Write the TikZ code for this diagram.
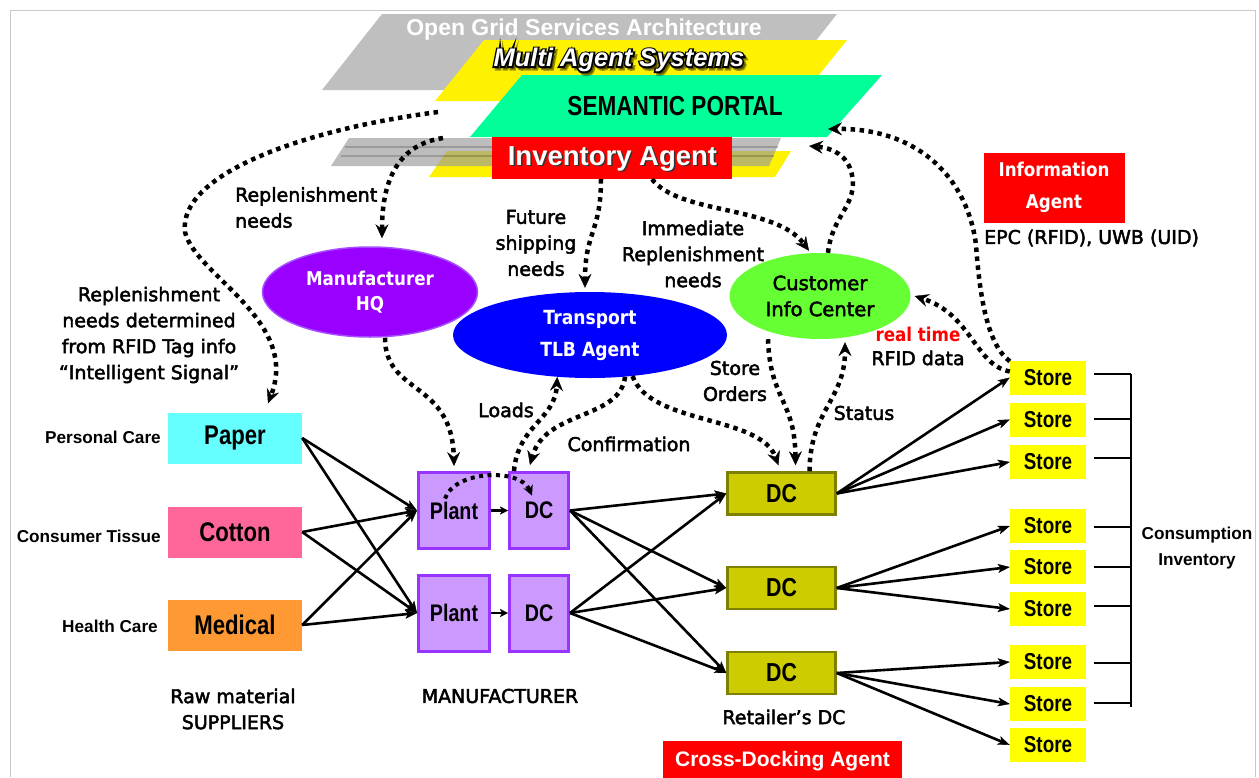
\documentclass[tikz,border=0pt]{standalone}
\usepackage{fontspec}
\usetikzlibrary{shapes.geometric,arrows.meta,calc}
\newfontfamily\tah{DejaVu Sans}[FakeBold=2.5]
\newfontfamily\tahc{DejaVu Sans}[FakeStretch=0.88]
\newfontfamily\ari{Liberation Sans}
\newfontfamily\arn{Liberation Sans}[FakeStretch=0.82]
\newfontfamily\masout{Liberation Sans Bold Italic}[FakeBold=12]
\definecolor{lgray}{HTML}{BFBFBF}
\definecolor{stripg}{HTML}{9A9A9A}
\definecolor{semgreen}{HTML}{00FF99}
\definecolor{hqpurple}{HTML}{9900FF}
\definecolor{hqborder}{HTML}{A64DFF}
\definecolor{tblue}{HTML}{0000FF}
\definecolor{cgreen}{HTML}{66FF33}
\definecolor{lav}{HTML}{CC99FF}
\definecolor{lavb}{HTML}{9933FF}
\definecolor{olivef}{HTML}{CCCC00}
\definecolor{oliveb}{HTML}{808000}
\definecolor{cyanb}{HTML}{66FFFF}
\definecolor{pinkb}{HTML}{FF6699}
\definecolor{orangeb}{HTML}{FF9933}
\definecolor{framec}{HTML}{C8C8C8}
\definecolor{storey}{HTML}{FFFF00}
\tikzset{
  dotarr/.style={line width=4.5pt, dash pattern=on 4.5pt off 4.5pt,
    -{Stealth[length=14pt,width=13pt,inset=5pt,line width=0.4pt]}},
  solarr/.style={line width=2.6pt,
    -{Stealth[length=12pt,width=9pt,inset=3pt,line width=0.4pt]}},
  lab/.style={font=\tah\fontsize{19}{26}\selectfont, align=center, inner sep=0pt},
  sidelab/.style={font=\ari\bfseries\fontsize{17.2}{26}\selectfont, align=center, inner sep=0pt},
  supbox/.style={minimum width=134pt, minimum height=51pt, inner sep=0pt,
    font=\arn\bfseries\fontsize{27}{30}\selectfont},
  pbox/.style={draw=lavb, fill=lav, line width=3pt, minimum height=76pt, inner sep=0pt,
    font=\arn\bfseries\fontsize{24}{28}\selectfont},
  rdcbox/.style={draw=oliveb, fill=olivef, line width=2.5pt, minimum width=108pt,
    minimum height=42pt, inner sep=0pt, font=\arn\bfseries\fontsize{26}{28}\selectfont},
  storebox/.style={fill=storey, minimum width=76pt, minimum height=34pt, inner sep=0pt,
    font=\arn\bfseries\fontsize{23}{26}\selectfont},
  ell/.style={ellipse, inner sep=0pt, align=center,
    font=\tahc\bfseries\fontsize{19}{26}\selectfont},
  redbox/.style={fill=red, inner sep=0pt, text=white, align=center}
}
\begin{document}
\begin{tikzpicture}[x=1pt,y=-1pt]
\useasboundingbox (0,0) rectangle (1259,777);
\fill[white] (0,0) rectangle (1259,777);
\draw[framec, line width=1pt] (10,777) -- (10,10) -- (1255,10) -- (1255,777);

% ---- layered planes ----
\fill[lgray] (382,14) -- (837,14) -- (777,90) -- (322,90) -- cycle;
\fill[yellow] (484,40) -- (847,40) -- (798,101) -- (435,101) -- cycle;
\fill[semgreen] (522,75) -- (882,75) -- (827,137) -- (470,137) -- cycle;
\fill[yellow] (447,151) -- (791,151) -- (775,177) -- (429,177) -- cycle;
\fill[stripg, opacity=0.65] (349,138) -- (781,138) -- (769,166) -- (331,166) -- cycle;
\draw[black, opacity=0.18, line width=1.5pt] (345,147) -- (778,147);
\draw[black, opacity=0.18, line width=1.5pt] (341,156) -- (774,156);

\node[text=white, font=\ari\bfseries\fontsize{23}{26}\selectfont, inner sep=0pt] (ogsa) at (584,30) {Open Grid Services Architecture};

\node[text=black, opacity=0.4, font=\masout\fontsize{25.5}{28}\selectfont, inner sep=0pt] (masshadow) at (621.5,62.5) {Multi Agent Systems};
\node[text=black, font=\masout\fontsize{25.5}{28}\selectfont, inner sep=0pt] (masline) at (619,60) {Multi Agent Systems};
\node[text=white, font=\ari\bfseries\itshape\fontsize{25.5}{28}\selectfont, inner sep=0pt] (mas) at (619,60) {Multi Agent Systems};

\node[font=\arn\bfseries\fontsize{27.5}{30}\selectfont, inner sep=0pt] (sem) at (675,106) {SEMANTIC PORTAL};

\node[fill=red, minimum width=240pt, minimum height=42pt, inner sep=0pt] (inv) at (612,158) {};
\node[text=black!80, font=\ari\bfseries\fontsize{27.5}{30}\selectfont, inner sep=0pt] (invshadow) at (614,160) {Inventory Agent};
\node[text=white, font=\ari\bfseries\fontsize{27.5}{30}\selectfont, inner sep=0pt] (invt) at (612.5,158.5) {Inventory Agent};

% ---- agents ----
\node[ell, fill=hqpurple, draw=hqborder, line width=1.5pt, minimum width=215pt, minimum height=90pt, text=white,
  font=\tahc\bfseries\fontsize{19}{25}\selectfont] (hq) at (370,292) {Manufacturer\\HQ};
\node[ell, fill=tblue, minimum width=274pt, minimum height=86pt, text=white,
  font=\tahc\bfseries\fontsize{19.5}{32}\selectfont] (trans) at (590,335) {Transport\\TLB Agent};
\node[ell, fill=cgreen, minimum width=181pt, minimum height=86pt, text=black,
  font=\tah\fontsize{19.5}{26}\selectfont] (cust) at (820,296) {Customer\\Info Center};

\node[redbox, minimum width=141pt, minimum height=70pt, font=\tahc\bfseries\fontsize{19}{32}\selectfont] (info) at (1054,187.5) {Information\\Agent};
\node[lab, anchor=west] (epc) at (984,238) {EPC (RFID), UWB (UID)};

% ---- suppliers ----
\node[supbox, fill=cyanb] (paper) at (235,438) {Paper};
\node[supbox, fill=pinkb] (cotton) at (235,532) {Cotton};
\node[supbox, fill=orangeb] (medical) at (235,625) {Medical};
\node[sidelab, anchor=east] (pc) at (161,437) {Personal Care};
\node[sidelab, anchor=east] (ct) at (161,536) {Consumer Tissue};
\node[sidelab, anchor=east] (hc) at (158,626) {Health Care};
\node[lab] (rawl) at (233,709) {Raw material\\SUPPLIERS};

% ---- manufacturer ----
\node[pbox, minimum width=71pt] (pl1) at (454,510.5) {Plant};
\node[pbox, minimum width=59pt] (dcm1) at (539,510.5) {DC};
\node[pbox, minimum width=71pt] (pl2) at (454,613) {Plant};
\node[pbox, minimum width=59pt] (dcm2) at (539,613) {DC};
\node[lab] (manl) at (500,696) {MANUFACTURER};

% ---- retailer DCs ----
\node[rdcbox] (rdc1) at (781.5,493.5) {DC};
\node[rdcbox] (rdc2) at (781.5,588) {DC};
\node[rdcbox] (rdc3) at (781.5,673) {DC};
\node[lab] (retl) at (784,717) {Retailer’s DC};
\node[redbox, minimum width=239pt, minimum height=40pt, font=\ari\bfseries\fontsize{21}{24}\selectfont] (xd) at (782.5,761) {Cross-Docking Agent};

% ---- stores ----
\node[storebox] (s1) at (1048,377.5) {Store};
\node[storebox] (s2) at (1048,419.5) {Store};
\node[storebox] (s3) at (1048,462) {Store};
\node[storebox] (s4) at (1048,526) {Store};
\node[storebox] (s5) at (1048,567) {Store};
\node[storebox] (s6) at (1048,609) {Store};
\node[storebox] (s7) at (1048,662) {Store};
\node[storebox] (s8) at (1048,704) {Store};
\node[storebox] (s9) at (1048,745) {Store};

\draw[line width=1.4pt] (1131,374) -- (1131,707);
\foreach \yy in {374,419,458,527,567,606,663,703}
  \draw[line width=1.4pt] (1094,\yy) -- (1131,\yy);
\node[sidelab] (cons) at (1197,548) {Consumption\\Inventory};

% ---- solid flows ----
\foreach \a in {paper,cotton,medical}
  \foreach \b in {pl1,pl2}
    \draw[solarr] (\a.east) -- (\b.west);
\draw[line width=2.6pt, -{Stealth[length=8pt,width=8pt,inset=2pt,line width=0.4pt]}] (pl1.east) -- (dcm1.west);
\draw[line width=2.6pt, -{Stealth[length=8pt,width=8pt,inset=2pt,line width=0.4pt]}] (pl2.east) -- (dcm2.west);
\foreach \a in {dcm1,dcm2}
  \foreach \b in {rdc1,rdc2,rdc3}
    \draw[solarr] (\a.east) -- (\b.west);
\foreach \s in {s1,s2,s3} \draw[solarr] (rdc1.east) -- (\s.west);
\foreach \s in {s4,s5,s6} \draw[solarr] (rdc2.east) -- (\s.west);
\foreach \s in {s7,s8,s9} \draw[solarr] (rdc3.east) -- (\s.west);

% ---- dotted information flows ----
\coordinate (semL) at (438,112);
\coordinate (stripL) at (443,138);
\coordinate (semR1) at (828,129);
\coordinate (semR2) at (809,146);
\draw[dotarr] (semL) .. controls (300,130) and (178,175) .. (185,232)
   .. controls (195,275) and (300,320) .. ([xshift=33pt,yshift=9pt]paper.north);
\draw[dotarr] (stripL) .. controls (395,145) and (382,185) .. ([xshift=12pt,yshift=8pt]hq.north);
\draw[dotarr] ([xshift=-11pt]inv.south) .. controls (601,232) and (585,232) .. ([xshift=-5pt,yshift=4pt]trans.north);
\draw[dotarr] ([xshift=40pt]inv.south) .. controls (680,215) and (775,205) .. ([xshift=-11pt,yshift=2pt]cust.north);
\draw[dotarr] ([xshift=8pt]cust.north) .. controls (832,215) and (858,205) .. (852,175)
   .. controls (848,155) and (832,148) .. (semR2);
\draw[dotarr] ([yshift=-1pt]s1.north west) .. controls (988,345) and (980,300) .. (976,245)
   .. controls (968,180) and (920,128) .. (semR1);
\draw[dotarr] ([yshift=6pt]s1.west) .. controls (975,365) and (972,315) .. ([xshift=4pt]cust.east);
\draw[dotarr] ([xshift=15pt]hq.south) .. controls (385,395) and (452,380) .. ([yshift=5pt]pl1.north);
\draw[dotarr] ([xshift=-25pt]dcm1.north) .. controls (518,425) and (555,420) .. (trans.-128);
\draw[dotarr] (trans.-50) .. controls (620,420) and (545,410) .. ([xshift=-9pt,yshift=6pt]dcm1.north);
\draw[dotarr] (trans.-44) .. controls (650,425) and (760,415) .. ([xshift=-3pt,yshift=6pt]rdc1.north);
\draw[dotarr] ([xshift=-52pt]cust.south) .. controls (770,400) and (795,400) .. ([xshift=14pt,yshift=6pt]rdc1.north);
\draw[dotarr] ([xshift=28pt]rdc1.north) .. controls (810,410) and (845,400) .. ([xshift=25pt,yshift=-3pt]cust.south);
\draw[line width=4pt, dash pattern=on 4pt off 4.5pt,
    -{Stealth[length=10pt,width=10pt,inset=3.5pt,line width=0.4pt]}]
  ([xshift=-9pt,yshift=12pt]pl1.center) .. controls (455,470) and (520,468) .. ([xshift=-7pt,yshift=15pt]dcm1.center);

% ---- labels ----
\node[lab, anchor=west, align=left] (l1) at (235,207.5) {Replenishment\\needs};
\node[lab] (l2) at (149,335) {Replenishment\\needs determined\\from RFID Tag info\\“Intelligent Signal”};
\node[lab] (l3) at (536,243) {Future\\shipping\\needs};
\node[lab] (l4) at (693,254) {Immediate\\Replenishment\\needs};
\node[lab] (l5) at (735,381) {Store\\Orders};
\node[lab] (l6) at (506,410) {Loads};
\node[lab] (l7) at (629,444) {Confirmation};
\node[lab] (l8) at (864,413) {Status};
\node[lab, text=red, font=\tahc\bfseries\fontsize{19}{26}\selectfont] (l9) at (918,334) {real time};
\node[lab] (l10) at (918,358) {RFID data};
\end{tikzpicture}
\end{document}
